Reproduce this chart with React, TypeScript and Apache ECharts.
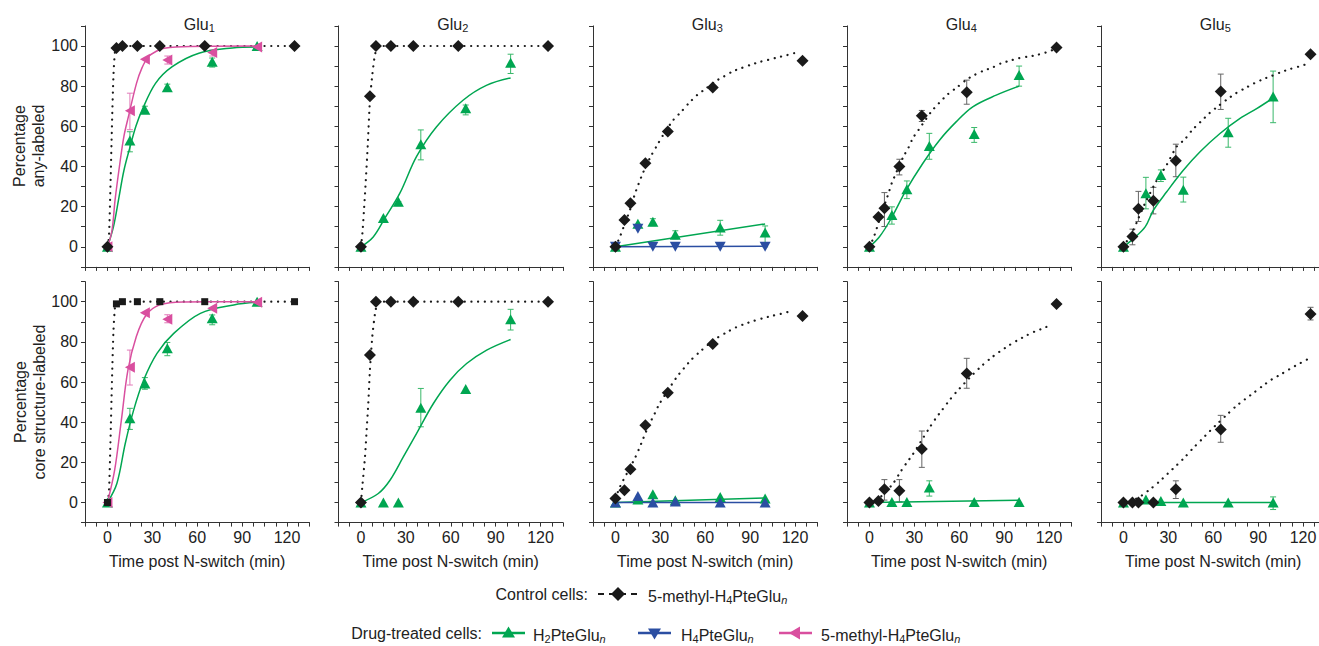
import React, { useEffect, useRef } from 'react';
import * as echarts from 'echarts';

// ---------- data ----------
const panelSub = ['1', '2', '3', '4', '5'];
const ctrlTimes = [0, 6, 10, 20, 35, 65, 125];
const drugTimes = [0, 15, 25, 40, 70, 100];
const xTickLabels = [0, 30, 60, 90, 120];
const yTickLabels = [0, 20, 40, 60, 80, 100];
const rowNames = ['Percentage\nany-labeled', 'Percentage\ncore structure-labeled'];
const xName = 'Time post N-switch (min)';

type E = [number, number] | null;

// Row 1: percentage any-labeled
const ctrlAnyY = [
  [0, 99, 100, 100, 100, 100, 100],
  [0, 75, 100, 100, 100, 100, 100],
  [0, 13.4, 21.7, 41.6, 57.4, 79.3, 92.7],
  [0, 14.8, 19.2, 40, 65.2, 77, 99.2],
  [0, 5.1, 18.9, 23, 42.9, 77.3, 95.9],
];
const ctrlAnyErr: E[][] = [
  [null, null, null, null, null, null, null],
  [null, null, null, null, null, null, null],
  [null, null, null, null, null, null, null],
  [null, null, [10.1, 27], [35.8, 43.6], [62.4, 67.9], [71, 83], null],
  [null, [1, 8.8], [12.6, 27.6], [16.4, 29.6], [34.9, 51.1], [68.4, 86], null],
];
const h2AnyY = [
  [0, 53, 68.2, 79.4, 92.2, 100],
  [0, 14.3, 22.5, 51.1, 69, 91.7],
  [0, 11.5, 12.5, 6, 9.6, 7.1],
  [0, 15.9, 28.7, 50.2, 56.2, 85.6],
  [0, 26.7, 35.8, 28.4, 57, 74.8],
];
const h2AnyErr: E[][] = [
  [null, [47.3, 57.3], [66.5, 70], [77.5, 81], [89.5, 94], null],
  [null, null, [20.5, 22.5], [43.3, 58.2], [65.7, 70.6], [86.3, 95.9]],
  [null, null, [10.5, 14], [4, 8], [5.8, 13.2], [0, 10.4]],
  [null, [11.3, 19.9], [24, 32.8], [43.6, 56.5], [52, 59.4], [80, 90]],
  [null, [18.9, 34.6], [32.5, 38.3], [22.3, 34.7], [49.6, 64], [61.8, 87.5]],
];
const h4AnyGlu3 = [0, 9, 0, 0, 0, 0];
const methylAnyGlu1 = [0, 67.8, 93.4, 93, 96.7, 99.5];
const methylAnyGlu1Err: E[] = [null, [58.3, 76.5], null, [91, 95], [95, 98], null];

// Row 2: percentage core structure-labeled
const ctrlCoreY = [
  [0, 98.9, 100, 100, 100, 100, 100],
  [0, 73.4, 100, 100, 100, 100, 100],
  [2, 6.1, 16.6, 38.5, 54.6, 78.9, 92.9],
  [0, 0.8, 6.6, 5.8, 26.6, 64.3, 98.9],
  [0, 0, 0, 0, 6.6, 36.4, 93.9],
];
const ctrlCoreErr: E[][] = [
  [null, null, null, null, null, null, null],
  [null, null, null, null, null, null, null],
  [null, null, null, null, null, null, null],
  [null, null, [1.2, 11.4], [0.3, 11.4], [17.5, 35.6], [56.9, 71.8], null],
  [null, null, null, null, [2, 10.8], [30, 43.4], [90.9, 97.2]],
];
const h2CoreY = [
  [0, 41.9, 59.3, 76.8, 91.7, 100],
  [0, 0, 0, 47.2, 56.5, 91.2],
  [0, 1.5, 4.1, 1.1, 2.8, 2],
  [0, 0.3, 0.3, 7.5, 0.3, 0.3],
  [0, 1.5, 0.8, 0, 0, 0],
];
const h2CoreErr: E[][] = [
  [null, [36.4, 46.9], [56.4, 62.2], [73.1, 79.7], [88.5, 93.4], null],
  [null, null, null, [37.7, 56.8], null, [85.9, 96.2]],
  [null, null, null, null, null, null],
  [null, null, null, [3.2, 10.8], null, null],
  [null, null, null, null, null, [-3.5, 2.8]],
];
const h4CoreGlu3 = [0, 3.3, 0, 0.5, 0, 0];
const methylCoreGlu1 = [0, 67.3, 94.5, 91.2, 96.7, 99.7];
const methylCoreGlu1Err: E[] = [null, [58.5, 75.9], null, [89.5, 93.5], null, null];

// fitted curves: [time, percentage]
const ctrlAnyFit = [
  [[0, 0], [1, 5], [2, 30], [3, 60], [4, 85], [5, 97], [6, 99.5], [10, 100], [125, 100]],
  [[0, 0], [1, 7], [2, 18], [3, 30], [4.5, 50], [6, 73], [7.5, 85], [9, 94], [10.5, 99], [12, 100], [125, 100]],
  [[0, 0], [3, 5], [6, 11], [10, 19], [13.3, 27], [18.5, 37], [23.6, 45], [27.4, 50], [31.9, 55.7], [38.5, 63], [44, 67.3], [49, 71.5], [54.6, 75.6], [60.8, 79], [66.4, 82.3], [72.4, 84.8], [78.2, 87.3], [84.2, 89], [90.3, 90.6], [96.1, 92], [102.1, 93.1], [108.1, 94.3], [113.9, 95.3], [119.4, 96.4]],
  [[0, 0], [2.9, 4.8], [4.9, 9.3], [9, 18.5], [12.9, 27], [14.9, 31.7], [22.7, 44.9], [26.1, 49.4], [29, 54.1], [32.8, 58.2], [41.3, 67.3], [46.4, 71.5], [52.4, 76], [58.5, 79.4], [64.6, 83.1], [70.2, 85.6], [76.2, 87.7], [82, 89.2], [88, 91.4], [94, 92.7], [99.8, 93.9], [105.8, 94.7], [111.8, 95.5], [117.6, 96.7], [122.5, 98]],
  [[0, 0], [6.7, 8.5], [9.4, 13.1], [14.9, 22.5], [17.8, 26.7], [21.2, 31.7], [28.5, 40.3], [35.6, 49.9], [41.1, 53.6], [46, 58.2], [51.6, 62.3], [57.4, 66.5], [63.4, 70.1], [69.4, 73.5], [75.2, 76.5], [81.3, 79], [87.3, 81.4], [93.1, 83.4], [99.1, 85.1], [105.1, 86.9], [110.9, 88.4], [116.9, 89.7], [122.5, 91]],
];
const h2AnyFit = [
  [[0, 0], [4, 10], [7.4, 23.4], [11, 38], [15.2, 50], [19, 60], [23.2, 68.2], [32.1, 81.4], [43.3, 89.7], [61.1, 96.4], [83.4, 99], [100, 99.5]],
  [[0, 0], [8.2, 4.9], [16, 14.3], [26, 26.7], [37.1, 44.9], [50.4, 59.7], [68.2, 73], [83.8, 80.4], [100, 84.1]],
  [[0, 0], [100, 11.4]],
  [[0, 0], [6.7, 5], [14.5, 14.1], [24.5, 28.2], [35.6, 41.5], [46.8, 53.1], [57.9, 62.2], [69, 69.7], [84.7, 75.5], [100, 80]],
  [[0, 0], [6.7, 4.1], [14.5, 9.9], [20, 18.2], [28.9, 27.4], [40, 38.1], [51.2, 47.3], [64.5, 56.4], [77.9, 63.9], [89, 68.8], [100, 74.1]],
];
const h4AnyFitGlu3 = [[0, 0], [100, 0.3]];
const methylAnyFitGlu1 = [[0, 0], [3, 8], [5.1, 23.4], [8, 40], [11, 55], [14, 64.8], [19.4, 81.4], [23, 89], [27.4, 94.7], [33, 97.5], [37.8, 98.9], [55, 99.8], [100, 100]];

const ctrlCoreFit = [
  [[0, 0], [1, 5], [2, 30], [3, 60], [4, 85], [5, 97], [6, 99.5], [10, 100], [125, 100]],
  [[0, 0], [0.9, 7.8], [2.7, 22.7], [3.8, 36], [4.9, 49.3], [6, 66], [7.6, 82.7], [9.4, 94.2], [10.9, 99.2], [12, 100], [125, 100]],
  [[0, 2], [3, 7.8], [8, 15], [12.9, 21.9], [15.6, 26.4], [18.1, 31], [22, 38], [26.3, 44.4], [29.2, 48.9], [40.8, 62.3], [45.7, 66.8], [50.8, 71.2], [56.9, 75.4], [62.4, 78.9], [68.2, 82.1], [74.2, 84.7], [80.5, 87.2], [86.3, 88.9], [92.3, 90.4], [98.3, 91.7], [104.4, 92.9], [110.4, 93.9], [116.2, 95.1]],
  [[0, 0], [5, 1.5], [10, 4.5], [16.3, 10], [20.5, 15], [24.5, 19.4], [28.9, 23.9], [36.3, 32.7], [40.1, 37.2], [44.1, 41.7], [48.5, 46], [53, 50.5], [57.9, 54.9], [63.4, 59.3], [69.4, 64], [75.1, 68.1], [80.9, 71.8], [86.9, 75.1], [92.9, 78.1], [98.5, 80.6], [104.7, 83.1], [110.3, 85.1], [116.3, 86.8], [122.1, 88.8]],
  [[0, 0], [6, 1], [11.8, 3.3], [17.8, 6.6], [23.8, 10.3], [29.6, 14.4], [35.6, 18.6], [41.2, 22.7], [46.3, 26.9], [52.3, 31.4], [57.9, 35.7], [63.4, 39.7], [69.5, 44], [75.3, 48], [81.3, 51.5], [87.3, 54.8], [93.1, 58.1], [99.1, 61.3], [105.1, 63.8], [110.9, 66.4], [116.9, 68.9], [122.9, 71.3]],
];
const h2CoreFit = [
  [[0, 0], [6.3, 9.5], [11.9, 29.4], [17.5, 46], [24.2, 61], [33.1, 74.3], [44.3, 84.2], [62.1, 94.2], [84.4, 98.4], [100, 99.7]],
  [[0, 0], [11.6, 4.5], [19.4, 11.1], [28.3, 22.7], [37.2, 34.4], [48.4, 49.3], [59.5, 60.9], [70.6, 69.2], [84, 75.9], [100, 81.2]],
  [[0, 0], [100, 2.3]],
  [[0, 0], [100, 1.1]],
  [[0, 0], [100, 0]],
];
const h4CoreFitGlu3 = [[0, 0], [100, 0]];
const methylCoreFitGlu1 = [[0, 0], [4.8, 16.1], [9.3, 41], [13.7, 66], [19.3, 82.7], [26, 93.5], [34.9, 98.4], [50.5, 99.9], [100, 100]];

// ---------- style ----------
const FONT = '"Liberation Sans", Arial, Helvetica, sans-serif';
const BLACK = '#1a1a1a';
const GREEN = '#00a651';
const GREEN_ERR = '#39b86a';
const BLUE = '#2b4ea2';
const PINK = '#d94f9f';
const PINK_ERR = '#e27ab9';
const GREY_ERR = '#666666';
const AXIS = '#333333';
const TEXT = '#222222';
const LEFTS = [85, 338.5, 593, 847, 1101];
const PW = 224.5;
const TOPS = [25.9, 281.6];
const PH = 241;

function errSeries(i: number, xs: number[], errs: E[], color: string) {
  const data: number[][] = [];
  xs.forEach((x, k) => {
    const e = errs[k];
    if (e) data.push([x, e[0], e[1]]);
  });
  return {
    type: 'custom',
    xAxisIndex: i,
    yAxisIndex: i,
    data,
    encode: { x: 0, y: [1, 2] },
    silent: true,
    z: 2,
    renderItem: (_p: any, api: any) => {
      const x = api.value(0);
      const lo = api.coord([x, api.value(1)]);
      const hi = api.coord([x, api.value(2)]);
      const w = 3;
      const st = { stroke: color, lineWidth: 1 };
      return {
        type: 'group',
        children: [
          { type: 'line', shape: { x1: lo[0], y1: lo[1], x2: hi[0], y2: hi[1] }, style: st },
          { type: 'line', shape: { x1: lo[0] - w, y1: lo[1], x2: lo[0] + w, y2: lo[1] }, style: st },
          { type: 'line', shape: { x1: hi[0] - w, y1: hi[1], x2: hi[0] + w, y2: hi[1] }, style: st },
        ],
      };
    },
  };
}

function scatter(i: number, xs: number[], ys: number[], color: string, symbol: string, size: any, rotate: number, z: number) {
  return {
    type: 'scatter',
    xAxisIndex: i,
    yAxisIndex: i,
    data: xs.map((x, k) => [x, ys[k]]),
    symbol,
    symbolSize: size,
    symbolRotate: rotate,
    itemStyle: { color, opacity: 1 },
    silent: true,
    z,
  };
}

function fit(i: number, pts: number[][], color: string, dotted: boolean, z: number) {
  return {
    type: 'line',
    xAxisIndex: i,
    yAxisIndex: i,
    data: pts,
    symbol: 'none',
    showSymbol: false,
    smooth: dotted ? 0.25 : 0.35,
    silent: true,
    z,
    lineStyle: dotted
      ? { color: BLACK, width: 2.2, type: [0.1, 6.6], cap: 'round' }
      : { color, width: 1.5 },
  };
}

const rich = {
  s: { fontSize: 11, fontFamily: FONT, fill: TEXT, color: TEXT, padding: [8, 0, 0, 0] },
  n: { fontSize: 11, fontFamily: FONT, fontStyle: 'italic', fill: TEXT, color: TEXT, padding: [8, 0, 0, 0] },
  ts: { fontSize: 11, fontFamily: FONT, fill: TEXT, color: TEXT, padding: [8, 0, 0, 0] },
};

function txt(x: number, y: number, text: string, align: string, size: number, extra: any = {}) {
  return {
    type: 'text',
    x,
    y,
    silent: true,
    ...extra,
    style: {
      text,
      fontSize: size,
      fontFamily: FONT,
      fill: TEXT,
      align,
      verticalAlign: 'middle',
      rich,
      lineHeight: 19,
    },
  };
}

function buildOption() {
  const grid: any[] = [];
  const xAxis: any[] = [];
  const yAxis: any[] = [];
  const series: any[] = [];
  for (let r = 0; r < 2; r++) {
    for (let c = 0; c < 5; c++) {
      const i = r * 5 + c;
      grid.push({ left: LEFTS[c], top: TOPS[r], width: PW, height: PH, outerBoundsMode: 'none', containLabel: false });
      xAxis.push({
        gridIndex: i,
        type: 'value',
        min: -15,
        max: 135,
        interval: 7.5,
        axisLine: { show: true, onZero: false, lineStyle: { color: AXIS, width: 1 } },
        axisTick: { show: true, length: 4, lineStyle: { color: AXIS } },
        splitLine: { show: false },
        axisLabel: {
          show: r === 1,
          margin: 7,
          fontSize: 16,
          fontFamily: FONT,
          color: TEXT,
          formatter: (v: number) => (xTickLabels.indexOf(v) >= 0 ? String(v) : ''),
        },
        name: r === 1 ? xName : '',
        nameLocation: 'middle',
        nameGap: 31,
        nameTextStyle: { fontSize: 16, fontFamily: FONT, color: TEXT },
      });
      yAxis.push({
        gridIndex: i,
        type: 'value',
        min: -10,
        max: 110,
        interval: 10,
        axisLine: { show: true, onZero: false, lineStyle: { color: AXIS, width: 1 } },
        axisTick: { show: true, length: 4, lineStyle: { color: AXIS } },
        splitLine: { show: false },
        axisLabel: {
          show: c === 0,
          margin: 7,
          fontSize: 16,
          fontFamily: FONT,
          color: TEXT,
          formatter: (v: number) => (yTickLabels.indexOf(v) >= 0 ? String(v) : ''),
        },
      });

      const ctrlY = r === 0 ? ctrlAnyY[c] : ctrlCoreY[c];
      const ctrlE = r === 0 ? ctrlAnyErr[c] : ctrlCoreErr[c];
      const h2Y = r === 0 ? h2AnyY[c] : h2CoreY[c];
      const h2E = r === 0 ? h2AnyErr[c] : h2CoreErr[c];
      const ctrlF = r === 0 ? ctrlAnyFit[c] : ctrlCoreFit[c];
      const h2F = r === 0 ? h2AnyFit[c] : h2CoreFit[c];

      series.push(errSeries(i, ctrlTimes, ctrlE, GREY_ERR));
      series.push(errSeries(i, drugTimes, h2E, GREEN_ERR));
      series.push(fit(i, ctrlF, BLACK, true, 3));
      series.push(fit(i, h2F, GREEN, false, 4));
      if (c === 2) {
        series.push(fit(i, r === 0 ? h4AnyFitGlu3 : h4CoreFitGlu3, BLUE, false, 4));
      }
      if (c === 0) {
        series.push(errSeries(i, drugTimes, r === 0 ? methylAnyGlu1Err : methylCoreGlu1Err, PINK_ERR));
        series.push(fit(i, r === 0 ? methylAnyFitGlu1 : methylCoreFitGlu1, PINK, false, 4));
      }
      series.push(scatter(i, drugTimes, h2Y, GREEN, 'triangle', [11, 10], 0, 6));
      if (c === 2) {
        series.push(scatter(i, drugTimes, r === 0 ? h4AnyGlu3 : h4CoreGlu3, BLUE, 'triangle', [11, 10], r === 0 ? 180 : 0, 7));
      }
      if (c === 0) {
        series.push(scatter(i, drugTimes, r === 0 ? methylAnyGlu1 : methylCoreGlu1, PINK, 'triangle', [11, 10], 90, 7));
      }
      const ctrlSymbol = r === 1 && c === 0 ? 'rect' : 'diamond';
      series.push(scatter(i, ctrlTimes, ctrlY, BLACK, ctrlSymbol, ctrlSymbol === 'rect' ? 7 : [12, 12], 0, 8));
    }
  }

  const graphic: any[] = [];
  for (let c = 0; c < 5; c++) {
    graphic.push(txt(LEFTS[c] + PW / 2 + 2, 24, 'Glu{ts|' + panelSub[c] + '}', 'center', 16));
  }
  graphic.push(txt(29, 146, rowNames[0], 'center', 16, { rotation: Math.PI / 2 }));
  graphic.push(txt(30, 402, rowNames[1], 'center', 16, { rotation: Math.PI / 2 }));

  // legend
  const ly1 = 594;
  const ly2 = 633;
  graphic.push(txt(588, ly1, 'Control cells:', 'right', 16));
  graphic.push({ type: 'line', silent: true, shape: { x1: 598, y1: ly1, x2: 638, y2: ly1 }, style: { stroke: BLACK, lineWidth: 2.2, lineDash: [6, 5] } });
  graphic.push({ type: 'polygon', silent: true, shape: { points: [[618, ly1 - 7], [625, ly1], [618, ly1 + 7], [611, ly1]] }, style: { fill: BLACK } });
  graphic.push(txt(648, ly1 + 2, '5-methyl-H{s|4}PteGlu{n|n}', 'left', 16));

  graphic.push(txt(482, ly2, 'Drug-treated cells:', 'right', 16));
  graphic.push({ type: 'line', silent: true, shape: { x1: 492, y1: ly2, x2: 525, y2: ly2 }, style: { stroke: GREEN, lineWidth: 2.5 } });
  graphic.push({ type: 'polygon', silent: true, shape: { points: [[508.5, ly2 - 6.5], [515, ly2 + 4.5], [502, ly2 + 4.5]] }, style: { fill: GREEN } });
  graphic.push(txt(533, ly2 + 2, 'H{s|2}PteGlu{n|n}', 'left', 16));

  graphic.push({ type: 'line', silent: true, shape: { x1: 638, y1: ly2, x2: 671, y2: ly2 }, style: { stroke: BLUE, lineWidth: 2.5 } });
  graphic.push({ type: 'polygon', silent: true, shape: { points: [[654.5, ly2 + 6.5], [661, ly2 - 4.5], [648, ly2 - 4.5]] }, style: { fill: BLUE } });
  graphic.push(txt(681, ly2 + 2, 'H{s|4}PteGlu{n|n}', 'left', 16));

  graphic.push({ type: 'line', silent: true, shape: { x1: 779, y1: ly2, x2: 812, y2: ly2 }, style: { stroke: PINK, lineWidth: 2.5 } });
  graphic.push({ type: 'polygon', silent: true, shape: { points: [[789, ly2], [800, ly2 - 6.5], [800, ly2 + 6.5]] }, style: { fill: PINK } });
  graphic.push(txt(821, ly2 + 2, '5-methyl-H{s|4}PteGlu{n|n}', 'left', 16));

  return {
    animation: false,
    backgroundColor: '#ffffff',
    grid,
    xAxis,
    yAxis,
    series,
    graphic,
  };
}

export default function App() {
  const ref = useRef<HTMLDivElement>(null);
  useEffect(() => {
    if (!ref.current) return;
    const chart = echarts.init(ref.current, undefined, { renderer: 'svg' });
    chart.setOption(buildOption() as any);
    return () => chart.dispose();
  }, []);
  return (
    <div
      ref={ref}
      style={{ position: 'fixed', left: 0, top: 0, width: 1319, height: 646, background: '#fff' }}
    />
  );
}
